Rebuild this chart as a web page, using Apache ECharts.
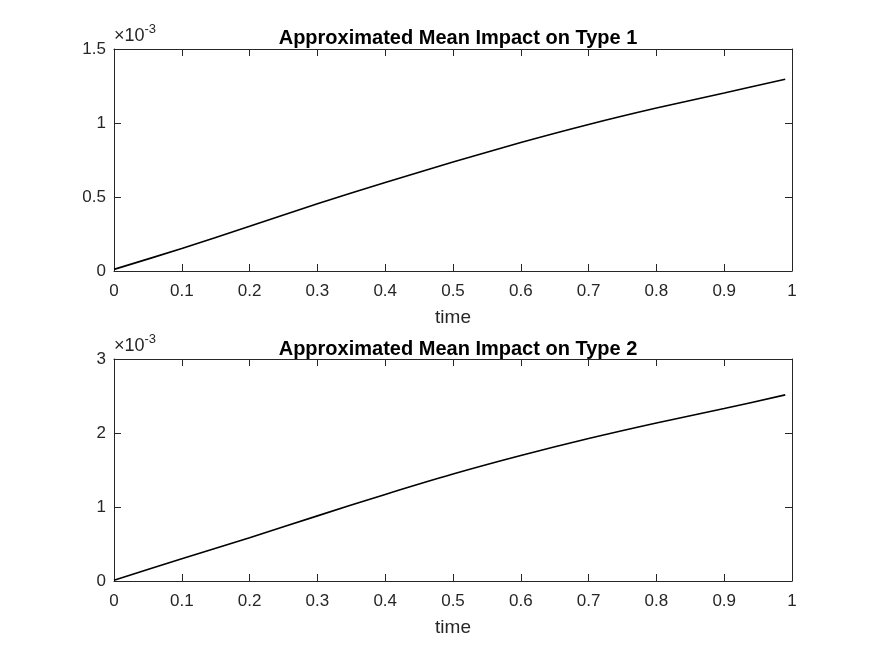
<!DOCTYPE html>
<html>
<head>
<meta charset="utf-8">
<script src="https://cdn.jsdelivr.net/npm/echarts@6/dist/echarts.min.js"></script>
<style>
  html, body { margin: 0; padding: 0; background: #fff; }
  #chart { width: 875px; height: 656px; }
</style>
</head>
<body>
<div id="chart"></div>
<script>
// time points
var timePoints = [0, 0.1, 0.2, 0.3, 0.4, 0.5, 0.6, 0.7, 0.8, 0.9, 0.99];
// mean impact, type 1 and type 2
var impactType1 = [0.000011, 0.000152, 0.000302, 0.000455, 0.000598, 0.000736, 0.000868, 0.000990, 0.001101, 0.001203, 0.001295];
var impactType2 = [0.000010, 0.000300, 0.000585, 0.000880, 0.001170, 0.001445, 0.001695, 0.001925, 0.002135, 0.002330, 0.002515];
var titles = ['Approximated Mean Impact on Type 1', 'Approximated Mean Impact on Type 2'];
var xTickLabels = ['0', '0.1', '0.2', '0.3', '0.4', '0.5', '0.6', '0.7', '0.8', '0.9', '1'];

var axisColor = '#262626';
var font = 'Liberation Sans, Arial, Helvetica, sans-serif';

function pairs(xs, ys) {
    var out = [];
    for (var i = 0; i < xs.length; i++) out.push([xs[i], ys[i]]);
    return out;
}

var grids = [
    {left: 114, top: 49, width: 678, height: 222},
    {left: 114, top: 359, width: 678, height: 222}
];

var xAxes = [], yAxes = [], series = [];
var yMax = [0.0015, 0.003], yStep = [0.0005, 0.001];

[0, 1].forEach(function (g) {
    // bottom x axis with labels
    xAxes.push({
        type: 'value', gridIndex: g, position: 'bottom', min: 0, max: 1, interval: 0.1,
        name: 'time', nameLocation: 'middle', nameGap: 37,
        nameTextStyle: {color: axisColor, fontSize: 19, fontFamily: font},
        axisLine: {show: true, onZero: false, lineStyle: {color: axisColor, width: 1}},
        axisTick: {show: true, inside: true, length: 7, lineStyle: {color: axisColor}},
        axisLabel: {color: axisColor, fontSize: 17, fontFamily: font, margin: 12,
            formatter: function (v) { return xTickLabels[Math.round(v * 10)]; }},
        splitLine: {show: false}
    });
    // mirrored top x axis
    xAxes.push({
        type: 'value', gridIndex: g, position: 'top', min: 0, max: 1, interval: 0.1,
        axisLine: {show: true, onZero: false, lineStyle: {color: axisColor, width: 1}},
        axisTick: {show: true, inside: true, length: 7, lineStyle: {color: axisColor}},
        axisLabel: {show: false}, splitLine: {show: false}
    });
    yAxes.push({
        type: 'value', gridIndex: g, position: 'left', min: 0, max: yMax[g], interval: yStep[g],
        axisLine: {show: true, onZero: false, lineStyle: {color: axisColor, width: 1}},
        axisTick: {show: true, inside: true, length: 7, lineStyle: {color: axisColor}},
        axisLabel: {color: axisColor, fontSize: 17, fontFamily: font, margin: 8,
            formatter: function (v) { return String(Math.round(v * 1e4) / 10); }},
        splitLine: {show: false}
    });
    yAxes.push({
        type: 'value', gridIndex: g, position: 'right', min: 0, max: yMax[g], interval: yStep[g],
        axisLine: {show: true, onZero: false, lineStyle: {color: axisColor, width: 1}},
        axisTick: {show: true, inside: true, length: 7, lineStyle: {color: axisColor}},
        axisLabel: {show: false}, splitLine: {show: false}
    });
    series.push({
        type: 'line', xAxisIndex: g * 2, yAxisIndex: g * 2,
        data: pairs(timePoints, g === 0 ? impactType1 : impactType2),
        smooth: 0.3, showSymbol: false, animation: false,
        lineStyle: {color: '#000', width: 1.6}
    });
});

var expLabel = {
    text: '{a|×10}{b|-3}', rich: {
        a: {fontSize: 18, fill: axisColor, fontFamily: font, verticalAlign: 'bottom'},
        b: {fontSize: 13, fill: axisColor, fontFamily: font, verticalAlign: 'top', padding: [0, 0, 9, 0]}
    }
};

var chart = echarts.init(document.getElementById('chart'));
chart.setOption({
    backgroundColor: '#fff',
    animation: false,
    title: [
        {text: titles[0], left: 453, top: 23, textAlign: 'center',
            textStyle: {fontSize: 20, fontWeight: 'bold', color: '#000', fontFamily: font}},
        {text: titles[1], left: 453, top: 334, textAlign: 'center',
            textStyle: {fontSize: 20, fontWeight: 'bold', color: '#000', fontFamily: font}}
    ],
    grid: grids,
    xAxis: xAxes,
    yAxis: yAxes,
    series: series,
    graphic: [
        {type: 'text', left: 114, top: 23, style: expLabel},
        {type: 'text', left: 114, top: 333, style: expLabel}
    ]
});
</script>
</body>
</html>
